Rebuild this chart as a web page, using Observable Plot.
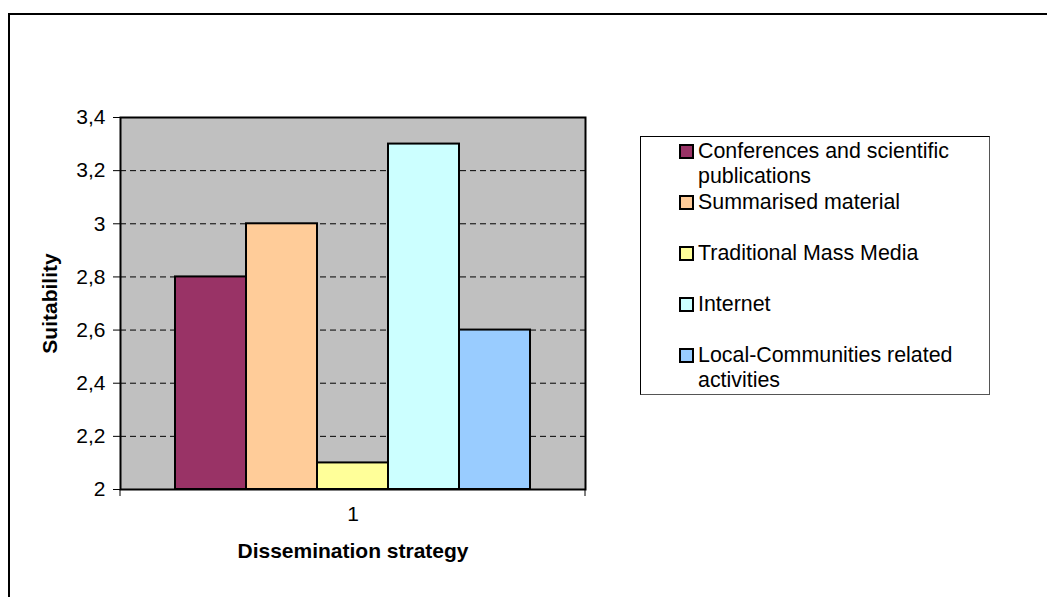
<!DOCTYPE html>
<html>
<head>
<meta charset="utf-8">
<script src="https://cdn.jsdelivr.net/npm/d3@7"></script>
<script src="https://cdn.jsdelivr.net/npm/@observablehq/plot@0.6"></script>
<style>
  html, body { margin: 0; padding: 0; background: #fff; overflow: hidden; }
  #wrap { position: relative; width: 1047px; height: 597px; overflow: hidden; font-family: "Liberation Sans", Arial, sans-serif; }
  #outer { position: absolute; left: 8px; top: 13px; width: 1100px; height: 700px; border-left: 2px solid #000; border-top: 2px solid #000; box-sizing: border-box; }
  #chart { position: absolute; left: 0; top: 0; }
  #legend { position: absolute; left: 640px; top: 136px; width: 350px; height: 259px; box-sizing: border-box;
            border: 1px solid #000; border-right-color: #555; border-bottom-color: #555; background: #fff; padding-top: 2px; }
  .entry { height: 51px; position: relative; font-size: 21.4px; line-height: 25px; }
  .sw { position: absolute; left: 38px; top: 5px; width: 15px; height: 15px; box-sizing: border-box; border: 2px solid #000; }
  .lab { position: absolute; left: 57px; top: 0; width: 280px; color: #000; }
</style>
</head>
<body>
<div id="wrap">
  <div id="outer"></div>
  <div id="chart"></div>
  <div id="legend"></div>
</div>
<script>
const series = ["Conferences and scientific publications", "Summarised material", "Traditional Mass Media", "Internet", "Local-Communities related activities"];
const values = [2.8, 3.0, 2.1, 3.3, 2.6];
const colors = ["#993366", "#FFCC99", "#FFFF99", "#CCFFFF", "#99CCFF"];
const yTicks = [2, 2.2, 2.4, 2.6, 2.8, 3, 3.2, 3.4];
const gridTicks = [2.2, 2.4, 2.6, 2.8, 3, 3.2];
const categoryLabel = ["1"];
const xTitle = "Dissemination strategy";
const yTitle = "Suitability";

const data = series.map((s, i) => ({series: s, value: values[i], color: colors[i]}));
const fmt = d => String(d).replace(".", ",");

const chart = Plot.plot({
  width: 1047,
  height: 597,
  marginLeft: 120,
  marginRight: 462,
  marginTop: 117,
  marginBottom: 108,
  style: {fontFamily: "'Liberation Sans', Arial, sans-serif", fontSize: "21px", color: "#000", background: "transparent", overflow: "visible"},
  x: {type: "band", domain: series, paddingInner: 0, paddingOuter: 0.75, axis: null},
  y: {domain: [2, 3.4], axis: null},
  marks: [
    Plot.frame({fill: "#C0C0C0"}),
    Plot.gridY(gridTicks, {stroke: "#000", strokeOpacity: 1, strokeWidth: 1, strokeDasharray: "6,4"}),
    Plot.barY(data, {x: "series", y1: 2, y2: "value", fill: "color", stroke: "#000", strokeWidth: 2}),
    Plot.frame({stroke: "#000", strokeWidth: 2}),
    Plot.axisY({ticks: yTicks, tickFormat: fmt, tickSize: 7, tickPadding: 8, label: null, fontSize: 21}),
    Plot.text(categoryLabel, {frameAnchor: "bottom", dy: 31, fontSize: 21}),
    Plot.text([xTitle], {frameAnchor: "bottom", dy: 68, fontSize: 21, fontWeight: "bold"}),
    Plot.text([yTitle], {frameAnchor: "left", textAnchor: "middle", dx: -70, rotate: -90, fontSize: 21, fontWeight: "bold"})
  ]
});
document.getElementById("chart").appendChild(chart);

// small tick marks at the ends of the category axis
const xr = chart.scale("x").range;
const yr = chart.scale("y").range;
const svg = d3.select(chart);
[xr[0], xr[1]].forEach(xp => {
  svg.append("line").attr("x1", xp).attr("x2", xp).attr("y1", yr[0]).attr("y2", yr[0] + 7)
    .attr("stroke", "#000").attr("stroke-width", 1);
});

// legend
const legend = d3.select("#legend");
data.forEach(d => {
  const e = legend.append("div").attr("class", "entry");
  e.append("div").attr("class", "sw").style("background", d.color);
  e.append("div").attr("class", "lab").text(d.series);
});
</script>
</body>
</html>
